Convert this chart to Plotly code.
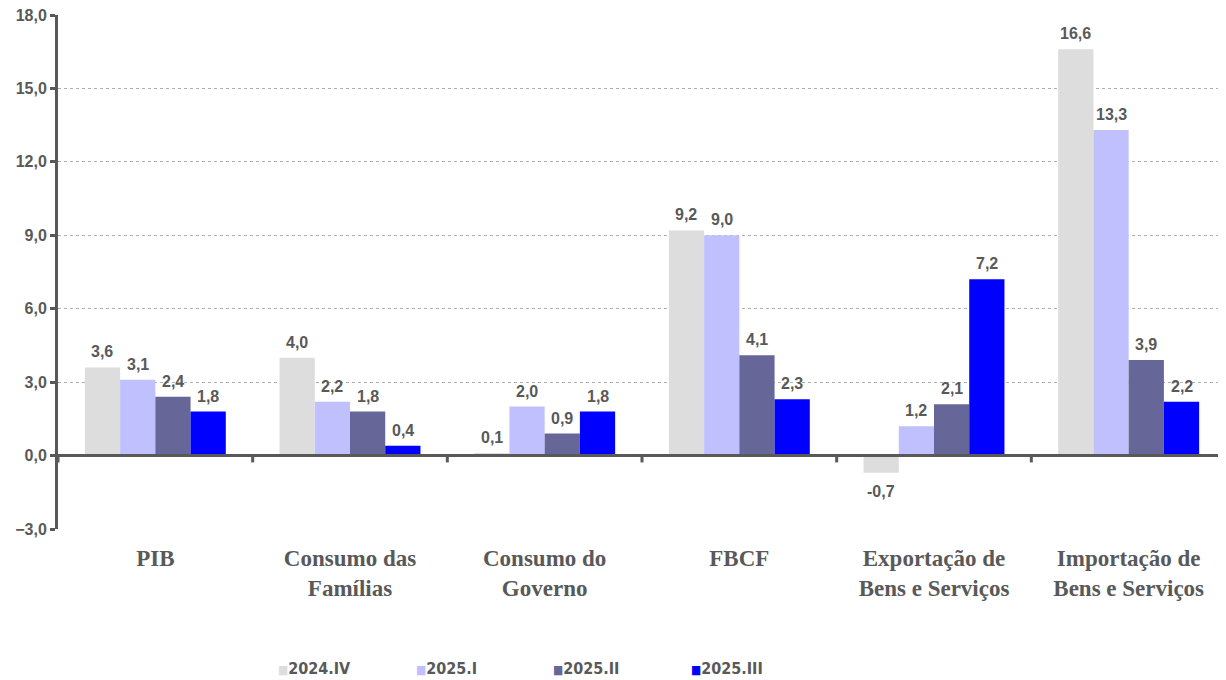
import plotly.graph_objects as go

categories = ["PIB", "Consumo das<br>Famílias", "Consumo do<br>Governo", "FBCF",
              "Exportação de<br>Bens e Serviços", "Importação de<br>Bens e Serviços"]
series_names = ["2024.IV", "2025.I", "2025.II", "2025.III"]
v_2024_IV = [3.6, 4.0, 0.1, 9.2, -0.7, 16.6]
v_2025_I = [3.1, 2.2, 2.0, 9.0, 1.2, 13.3]
v_2025_II = [2.4, 1.8, 0.9, 4.1, 2.1, 3.9]
v_2025_III = [1.8, 0.4, 1.8, 2.3, 7.2, 2.2]
series_values = [v_2024_IV, v_2025_I, v_2025_II, v_2025_III]
colors = ["#DDDDDD", "#C0C0FF", "#666699", "#0000FF"]
y_ticks = [-3, 0, 3, 6, 9, 12, 15, 18]

GRAY = "#595959"
BAR_W = 0.181
n = len(series_names)
fig = go.Figure()
xs = list(range(len(categories)))
annotations = []
for k, (name, vals, col) in enumerate(zip(series_names, series_values, colors)):
    off = -n * BAR_W / 2 + k * BAR_W
    fig.add_trace(go.Bar(
        x=xs, y=vals, name=name, marker=dict(color=col, line=dict(width=0)),
        width=BAR_W, offset=off, showlegend=False,
    ))
    for xi, v in zip(xs, vals):
        annotations.append(dict(
            x=xi + off + BAR_W / 2, y=v, xref="x", yref="y",
            text=f"{v:.1f}".replace(".", ","), showarrow=False,
            yanchor="bottom" if v >= 0 else "top",
            yshift=5 if v >= 0 else -8,
            font=dict(family="Liberation Sans, Arial", size=16, color=GRAY, weight="bold"),
        ))

# legend drawn as text entries
for k, (name, col) in enumerate(zip(series_names, colors)):
    annotations.append(dict(
        x=(276 - 58 + k * 137.5) / 1168, y=-0.272, xref="paper", yref="paper",
        xanchor="left", yanchor="middle", showarrow=False,
        text=f"<span style='color:{col};font-size:12px'>■</span>{name}",
        font=dict(family="DejaVu Sans Condensed, Liberation Sans Narrow, Liberation Sans",
                  size=16, color=GRAY, weight="bold"),
    ))

shapes = []
for i in range(len(categories) + 1):
    shapes.append(dict(type="line", xref="x", yref="y", x0=i - 0.5, x1=i - 0.5,
                       y0=0, y1=-0.28, line=dict(color=GRAY, width=3), layer="above"))
shapes.append(dict(type="line", xref="x", yref="y", x0=-0.5, x1=len(categories) - 0.5,
                   y0=0, y1=0, line=dict(color=GRAY, width=3), layer="above"))

fig.update_layout(
    width=1218, height=672,
    margin=dict(l=50, r=0, t=7, b=151, autoexpand=False),
    plot_bgcolor="white", paper_bgcolor="white",
    barmode="overlay",
    shapes=shapes,
    annotations=annotations,
    showlegend=False,
    separators=",.",
    xaxis=dict(tickvals=xs, ticktext=categories, range=[-0.5, len(categories) - 0.5],
               showline=False, showgrid=False, zeroline=False, ticks="",
               ticklabelstandoff=13, automargin=False,
               tickfont=dict(family="Liberation Serif, Times New Roman", size=23,
                             color=GRAY, weight="bold")),
    yaxis=dict(range=[-3, 18], tickvals=y_ticks, tickformat=".1f",
               showline=True, linecolor=GRAY, linewidth=3,
               ticks="outside", ticklen=5, tickwidth=3, tickcolor=GRAY,
               showgrid=True, gridcolor="#B0B0B0", griddash="dot", gridwidth=1,
               zeroline=False, automargin=False, ticklabeloverflow="allow",
               tickfont=dict(family="Liberation Sans, Arial", size=16, color=GRAY, weight="bold")),
)
fig.write_html("out.html")
